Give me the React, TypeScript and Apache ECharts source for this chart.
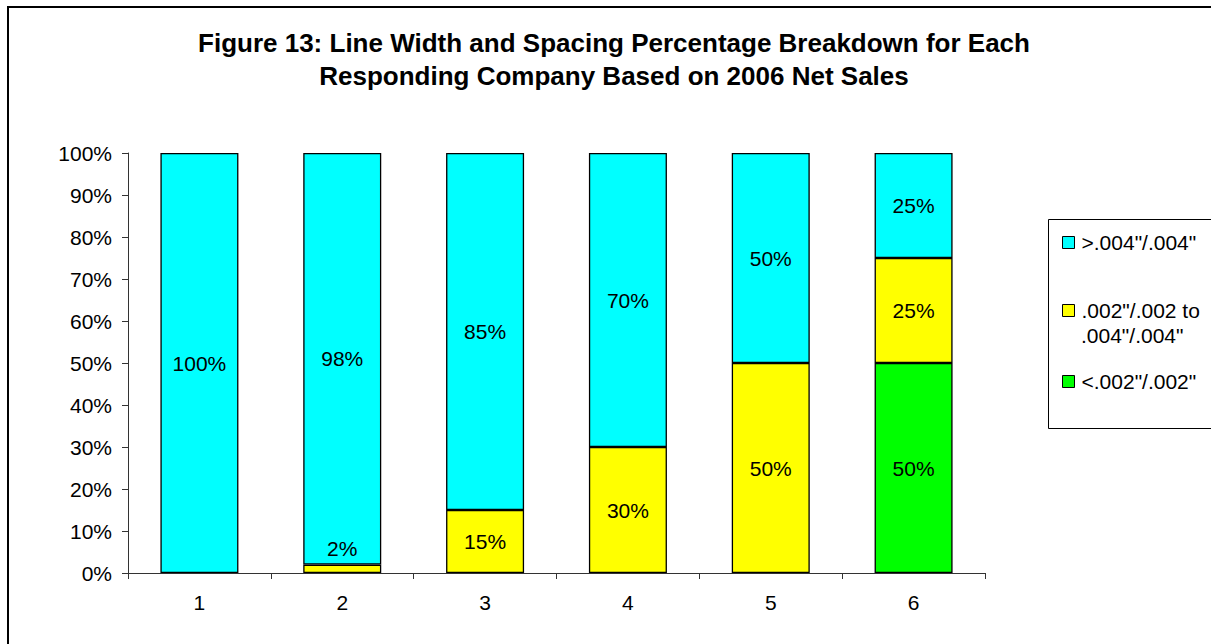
import React, { useEffect, useRef } from "react";
import * as echarts from "echarts";

const categories = ["1", "2", "3", "4", "5", "6"];
const seriesNames = ['>.004"/.004"', '.002"/.002 to .004"/.004"', '<.002"/.002"'];
const legendLines = ['.002"/.002 to', '.004"/.004"'];
const aboveValues = [100, 98, 85, 70, 50, 25];
const midValues = [0, 2, 15, 30, 50, 25];
const belowValues = [0, 0, 0, 0, 0, 50];
const yTicks = [0, 10, 20, 30, 40, 50, 60, 70, 80, 90, 100];

const FONT = "Arial, 'Liberation Sans', Helvetica, sans-serif";

export default function App() {
  const ref = useRef<HTMLDivElement>(null);
  useEffect(() => {
    if (!ref.current) return;
    const chart = echarts.init(ref.current, null, { renderer: "svg" });
    const mkData = (vals: number[]) =>
      vals.map((v) =>
        v === 0
          ? "-"
          : v < 5
          ? { value: v, label: { position: "top", distance: 6 } }
          : v
      );
    const mkSeries = (name: string, vals: number[], color: string) => ({
      name,
      type: "bar",
      stack: "total",
      data: mkData(vals),
      barWidth: 78,
      itemStyle: { color, borderColor: "#000", borderWidth: 1.3 },
      label: {
        show: true,
        position: "inside",
        formatter: (p: any) => `${p.value}%`,
        color: "#000",
        fontSize: 21,
        fontFamily: FONT,
      },
      emphasis: { disabled: true },
    });
    const legendCommon = {
      orient: "vertical",
      left: 1062,
      padding: 0,
      itemWidth: 12,
      itemHeight: 12,
      icon: "rect",
      selectedMode: false,
      itemStyle: { borderColor: "#000", borderWidth: 1 },
      textStyle: { fontSize: 21, fontFamily: FONT, color: "#000", padding: [0, 0, 0, 2] },
    };
    chart.setOption({
      animation: false,
      backgroundColor: "#fff",
      title: {
        text: "Figure 13: Line Width and Spacing Percentage Breakdown for Each\nResponding Company Based on 2006 Net Sales",
        left: 614,
        top: 26,
        padding: 0,
        textAlign: "center",
        textStyle: { fontSize: 26, fontWeight: "bold", fontFamily: FONT, color: "#000", lineHeight: 33 },
      },
      legend: [
        { ...legendCommon, top: 232, data: [seriesNames[0]] },
        {
          ...legendCommon,
          top: 300,
          data: [seriesNames[1]],
          formatter: () => legendLines[0],
        },
        { ...legendCommon, top: 371, data: [seriesNames[2]] },
      ],
      graphic: [
        {
          type: "rect",
          shape: { x: 8, y: 7, width: 1300, height: 700 },
          style: { fill: "none", stroke: "#000", lineWidth: 2 },
          silent: true,
        },
        {
          type: "rect",
          shape: { x: 1048.5, y: 219.5, width: 300, height: 209 },
          style: { fill: "none", stroke: "#000", lineWidth: 1 },
          silent: true,
        },
        {
          type: "text",
          x: 1081,
          y: 335,
          style: {
            text: legendLines[1],
            fontSize: 21,
            fontFamily: FONT,
            fill: "#000",
            align: "left",
            verticalAlign: "middle",
          },
          silent: true,
        },
      ],
      grid: { left: 128, top: 153, right: 226, bottom: 71 },
      xAxis: {
        type: "category",
        data: categories,
        axisLine: { lineStyle: { color: "#333", width: 1 } },
        axisTick: { show: true, length: 6, lineStyle: { color: "#333" } },
        axisLabel: { fontSize: 21, fontFamily: FONT, color: "#000", margin: 19 },
      },
      yAxis: {
        type: "value",
        min: yTicks[0],
        max: yTicks[yTicks.length - 1],
        interval: 10,
        axisLine: { show: true, lineStyle: { color: "#333", width: 1 } },
        axisTick: { show: true, length: 6, lineStyle: { color: "#333" } },
        splitLine: { show: false },
        axisLabel: { fontSize: 21, fontFamily: FONT, color: "#000", margin: 16, formatter: "{value}%" },
      },
      series: [
        mkSeries(seriesNames[2], belowValues, "#00FF00"),
        mkSeries(seriesNames[1], midValues, "#FFFF00"),
        mkSeries(seriesNames[0], aboveValues, "#00FFFF"),
      ],
    });
    return () => chart.dispose();
  }, []);
  return (
    <div
      ref={ref}
      style={{ position: "fixed", left: 0, top: 0, width: 1211, height: 644 }}
    />
  );
}
